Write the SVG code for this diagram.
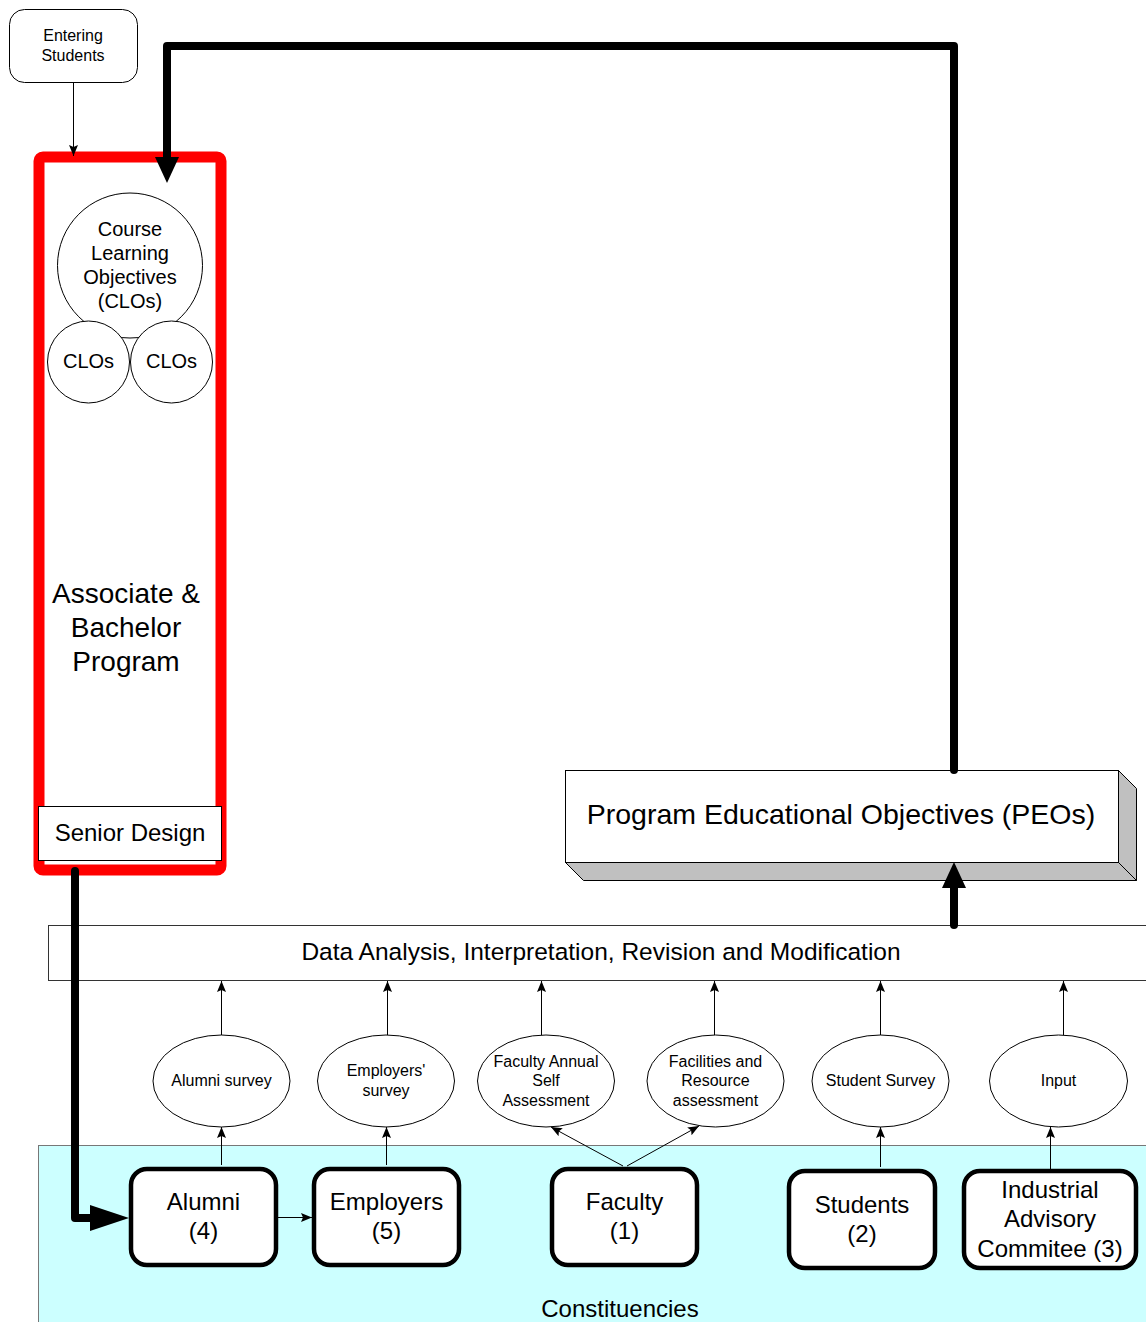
<svg xmlns="http://www.w3.org/2000/svg" width="1146" height="1322" viewBox="0 0 1146 1322">
  <style>
    text { font-family: "Liberation Sans", Arial, sans-serif; fill: #000; text-anchor: middle; }
    .thin { stroke: #000; stroke-width: 1; fill: none; }
    .thick { stroke: #000; stroke-width: 8; fill: none; stroke-linecap: round; stroke-linejoin: round; }
    .oval { fill: #fff; stroke: #000; stroke-width: 1; }
    .cbox { fill: #fff; stroke: #000; stroke-width: 4.5; }
    .s16 { font-size: 16px; }
    .s20 { font-size: 20px; }
    .s24 { font-size: 24px; }
    .s28 { font-size: 28.5px; }
  </style>
  <defs>
    <marker id="arr" markerWidth="12" markerHeight="10" refX="11" refY="5" orient="auto" markerUnits="userSpaceOnUse">
      <path d="M0,0.5 L11,5 L0,9.5 L2,5 Z" fill="#000"/>
    </marker>
  </defs>

  <rect width="1146" height="1322" fill="#fff"/>

  <!-- Constituencies background -->
  <g id="constituencies">
    <rect x="38.5" y="1145.5" width="1120" height="190" fill="#ccffff" stroke="#777" stroke-width="1"/>
    <text class="s24" x="620" y="1317">Constituencies</text>
  </g>

  <!-- Data analysis bar -->
  <g id="data-analysis">
    <rect x="48.5" y="925.5" width="1110" height="55" fill="#fff" stroke="#333" stroke-width="1"/>
    <text x="601" y="960" style="font-size:24.5px">Data Analysis, Interpretation, Revision and Modification</text>
  </g>

  <!-- Program Educational Objectives block (3D box) -->
  <g id="peo">
    <polygon points="1118.5,770.5 1136.5,788.5 1136.5,880.5 1118.5,862.5" fill="#c0c0c0" stroke="#000" stroke-width="1"/>
    <polygon points="565.5,862.5 583.5,880.5 1136.5,880.5 1118.5,862.5" fill="#c0c0c0" stroke="#000" stroke-width="1"/>
    <rect x="565.5" y="770.5" width="553" height="92" fill="#fff" stroke="#000" stroke-width="1"/>
    <text class="s28" x="841" y="824">Program Educational Objectives (PEOs)</text>
  </g>

  <!-- Program column -->
  <g id="program">
    <rect x="39" y="157" width="182" height="713" rx="4" fill="#fff" stroke="#ff0000" stroke-width="11"/>
    <text style="font-size:28px"><tspan x="126" y="603">Associate &amp;</tspan><tspan x="126" y="637">Bachelor</tspan><tspan x="126" y="671">Program</tspan></text>
  </g>

  <g id="clo-main">
    <circle cx="130" cy="265.5" r="72.5" class="oval"/>
    <text class="s20"><tspan x="130" y="236">Course</tspan><tspan x="130" y="260">Learning</tspan><tspan x="130" y="284">Objectives</tspan><tspan x="130" y="308">(CLOs)</tspan></text>
  </g>
  <g id="clo-left">
    <circle cx="88.5" cy="362" r="41" class="oval"/>
    <text class="s20" x="88.5" y="368">CLOs</text>
  </g>
  <g id="clo-right">
    <circle cx="171.5" cy="362" r="41" class="oval"/>
    <text class="s20" x="171.5" y="368">CLOs</text>
  </g>

  <g id="senior-design">
    <rect x="38.5" y="806.5" width="183" height="54" fill="#fff" stroke="#000" stroke-width="1"/>
    <text class="s24" x="130" y="841">Senior Design</text>
  </g>

  <g id="entering-students">
    <rect x="9.5" y="9.5" width="128" height="73" rx="15" fill="#fff" stroke="#000" stroke-width="1"/>
    <text class="s16"><tspan x="73" y="41">Entering</tspan><tspan x="73" y="61">Students</tspan></text>
  </g>

  <!-- Survey ovals -->
  <g id="alumni-survey">
    <ellipse cx="221.5" cy="1081" rx="68.5" ry="46" class="oval"/>
    <text class="s16" x="221.5" y="1086">Alumni survey</text>
  </g>
  <g id="employers-survey">
    <ellipse cx="386" cy="1081" rx="68.5" ry="46" class="oval"/>
    <text class="s16"><tspan x="386" y="1076">Employers'</tspan><tspan x="386" y="1096">survey</tspan></text>
  </g>
  <g id="faculty-assessment">
    <ellipse cx="546" cy="1081" rx="68.5" ry="46" class="oval"/>
    <text class="s16"><tspan x="546" y="1067">Faculty Annual</tspan><tspan x="546" y="1086">Self</tspan><tspan x="546" y="1106">Assessment</tspan></text>
  </g>
  <g id="facilities-assessment">
    <ellipse cx="715.5" cy="1081" rx="68.5" ry="46" class="oval"/>
    <text class="s16"><tspan x="715.5" y="1067">Facilities and</tspan><tspan x="715.5" y="1086">Resource</tspan><tspan x="715.5" y="1106">assessment</tspan></text>
  </g>
  <g id="student-survey">
    <ellipse cx="880.5" cy="1081" rx="68.5" ry="46" class="oval"/>
    <text class="s16" x="880.5" y="1086">Student Survey</text>
  </g>
  <g id="iac-input">
    <ellipse cx="1058.5" cy="1081" rx="69" ry="46" class="oval"/>
    <text class="s16" x="1058.5" y="1086">Input</text>
  </g>

  <!-- Constituency boxes -->
  <g id="alumni">
    <rect x="131" y="1169" width="145" height="96" rx="16" class="cbox"/>
    <text class="s24"><tspan x="203.5" y="1210">Alumni</tspan><tspan x="203.5" y="1239">(4)</tspan></text>
  </g>
  <g id="employers">
    <rect x="314" y="1169" width="145" height="96" rx="16" class="cbox"/>
    <text class="s24"><tspan x="386.5" y="1210">Employers</tspan><tspan x="386.5" y="1239">(5)</tspan></text>
  </g>
  <g id="faculty">
    <rect x="552" y="1169" width="145" height="96" rx="16" class="cbox"/>
    <text class="s24"><tspan x="624.5" y="1210">Faculty</tspan><tspan x="624.5" y="1239">(1)</tspan></text>
  </g>
  <g id="students">
    <rect x="789" y="1171" width="146" height="97" rx="16" class="cbox"/>
    <text class="s24"><tspan x="862" y="1213">Students</tspan><tspan x="862" y="1242">(2)</tspan></text>
  </g>
  <g id="iac">
    <rect x="964" y="1171" width="172" height="97" rx="16" class="cbox"/>
    <text class="s24"><tspan x="1050" y="1198">Industrial</tspan><tspan x="1050" y="1227">Advisory</tspan><tspan x="1050" y="1257">Commitee (3)</tspan></text>
  </g>

  <!-- Connectors -->
  <g id="connectors">
    <!-- entering students into program -->
    <line x1="73.5" y1="83" x2="73.5" y2="156" class="thin" marker-end="url(#arr)"/>

    <!-- survey ovals up to the analysis bar -->
    <line x1="221.5" y1="1035" x2="221.5" y2="981" class="thin" marker-end="url(#arr)"/>
    <line x1="387.5" y1="1035" x2="387.5" y2="981" class="thin" marker-end="url(#arr)"/>
    <line x1="541.5" y1="1035" x2="541.5" y2="981" class="thin" marker-end="url(#arr)"/>
    <line x1="714.5" y1="1035" x2="714.5" y2="981" class="thin" marker-end="url(#arr)"/>
    <line x1="880.5" y1="1035" x2="880.5" y2="981" class="thin" marker-end="url(#arr)"/>
    <line x1="1063.5" y1="1035" x2="1063.5" y2="981" class="thin" marker-end="url(#arr)"/>

    <!-- constituencies up to survey ovals -->
    <line x1="221.5" y1="1165" x2="221.5" y2="1127" class="thin" marker-end="url(#arr)"/>
    <line x1="386.5" y1="1165" x2="386.5" y2="1127" class="thin" marker-end="url(#arr)"/>
    <line x1="623" y1="1166" x2="551" y2="1127" class="thin" marker-end="url(#arr)"/>
    <line x1="627" y1="1166" x2="699" y2="1126" class="thin" marker-end="url(#arr)"/>
    <line x1="880.5" y1="1167" x2="880.5" y2="1127" class="thin" marker-end="url(#arr)"/>
    <line x1="1050.5" y1="1169" x2="1050.5" y2="1127" class="thin" marker-end="url(#arr)"/>

    <!-- alumni to employers -->
    <line x1="278" y1="1217.5" x2="312" y2="1217.5" class="thin" marker-end="url(#arr)"/>

    <!-- senior design to alumni -->
    <polyline points="75,871 75,1218 92,1218" class="thick"/>
    <polygon points="90,1205 129,1218 90,1231" fill="#000"/>

    <!-- analysis bar to PEOs -->
    <line x1="954" y1="925" x2="954" y2="886" class="thick"/>
    <polygon points="942,888 954,862 966,888" fill="#000"/>

    <!-- PEOs feedback to course objectives -->
    <polyline points="954,770 954,46 167,46 167,160" class="thick"/>
    <polygon points="155,157 167,183 179,157" fill="#000"/>
  </g>
</svg>
